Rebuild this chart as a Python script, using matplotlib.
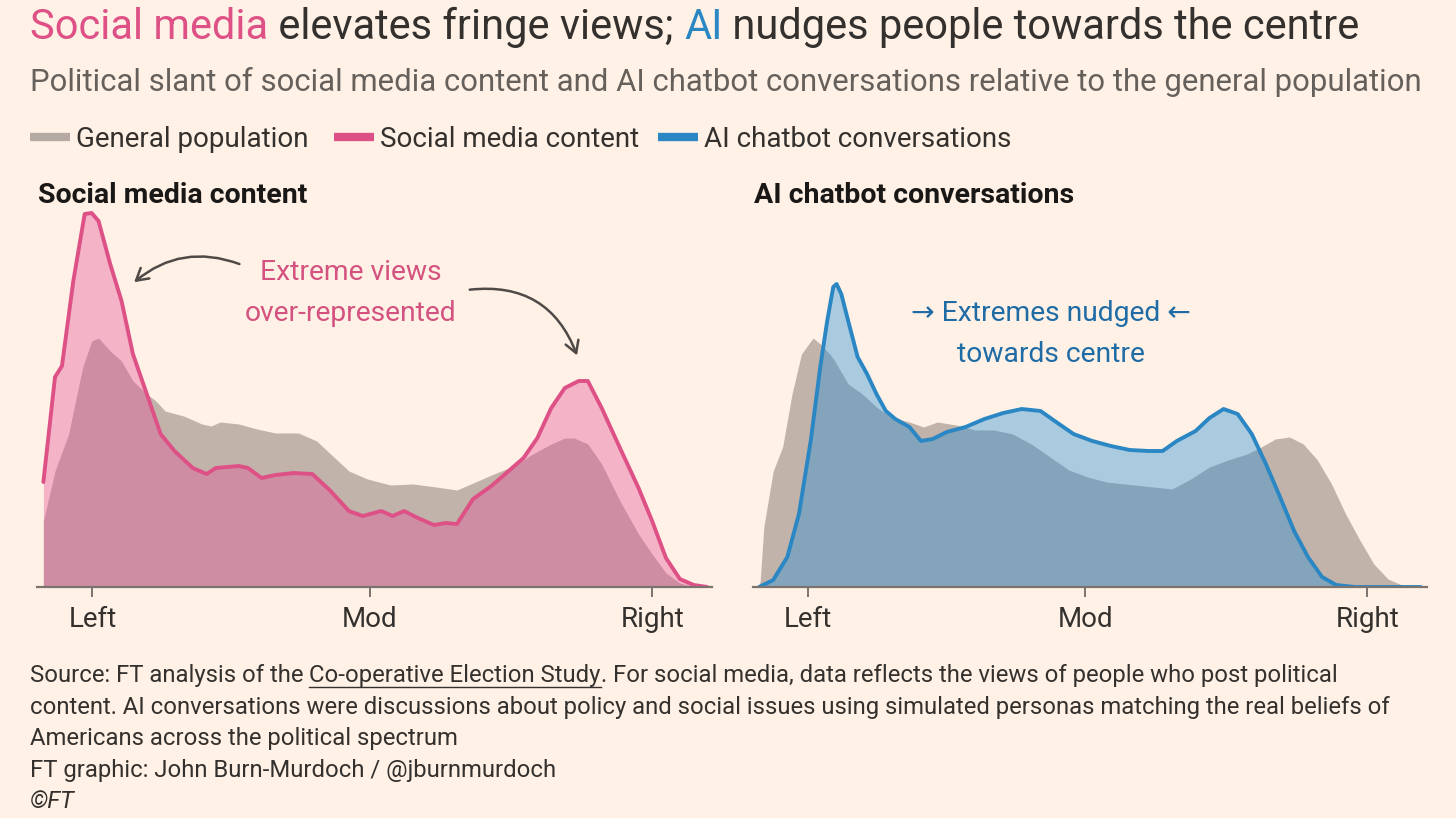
import matplotlib
matplotlib.use("Agg")
import matplotlib.pyplot as plt
from matplotlib.patches import FancyArrowPatch
from matplotlib.lines import Line2D

plt.rcParams['font.family'] = ['Roboto', 'DejaVu Sans']

# slant scale: Left = -1, Mod = 0, Right = ~1
# --- social media panel ---
sm_pop_x = [-1.177, -1.135, -1.086, -1.036, -1.003, -0.978, -0.936, -0.895, -0.854, -0.804,
            -0.771, -0.738, -0.671, -0.605, -0.572, -0.539, -0.472, -0.406, -0.340, -0.257,
            -0.191, -0.141, -0.075, -0.008, 0.075, 0.157, 0.240, 0.315, 0.390, 0.456,
            0.522, 0.588, 0.655, 0.704, 0.738, 0.787, 0.837, 0.903, 0.970, 1.019,
            1.069, 1.119, 1.169]
sm_pop_y = [66, 116, 153, 219, 246, 249, 236, 226, 206, 193,
            186, 176, 171, 163, 161, 165, 163, 158, 154, 154,
            146, 133, 116, 108, 102, 103, 100, 97, 106, 114,
            121, 133, 143, 149, 149, 143, 123, 86, 53, 33,
            14, 4, 0]

social_x = [-1.177, -1.135, -1.110, -1.069, -1.028, -1.003, -0.978, -0.936, -0.895, -0.854,
            -0.804, -0.754, -0.704, -0.638, -0.588, -0.555, -0.472, -0.439, -0.390, -0.340,
            -0.274, -0.207, -0.141, -0.075, -0.025, 0.042, 0.083, 0.124, 0.174, 0.232,
            0.274, 0.315, 0.373, 0.439, 0.489, 0.555, 0.605, 0.655, 0.704, 0.754,
            0.787, 0.837, 0.903, 0.970, 1.019, 1.069, 1.119, 1.169, 1.218]
social_y = [105, 210, 221, 306, 373, 374, 366, 323, 286, 233,
            193, 153, 136, 119, 113, 119, 121, 119, 109, 112,
            114, 113, 96, 76, 71, 76, 71, 76, 69, 62,
            64, 63, 88, 101, 113, 129, 149, 179, 199, 206,
            206, 179, 139, 99, 66, 29, 8, 2, 0]

# --- AI chatbot panel ---
ai_pop_x = [-1.180, -1.174, -1.161, -1.127, -1.093, -1.059, -1.025, -0.983, -0.957, -0.923,
            -0.907, -0.856, -0.805, -0.754, -0.703, -0.635, -0.584, -0.534, -0.466, -0.398,
            -0.330, -0.262, -0.195, -0.127, -0.059, 0.009, 0.077, 0.144, 0.212, 0.314,
            0.382, 0.449, 0.517, 0.585, 0.636, 0.687, 0.738, 0.788, 0.839, 0.890,
            0.941, 0.992, 1.043, 1.094, 1.144, 1.195, 1.212]
ai_pop_y = [0, 6, 60, 116, 140, 193, 233, 249, 243, 233,
            227, 203, 193, 180, 170, 165, 160, 165, 162, 157,
            157, 153, 143, 130, 117, 110, 105, 103, 101, 98,
            108, 120, 127, 133, 140, 148, 150, 143, 127, 103,
            73, 47, 23, 8, 2, 0, 0]

ai_x = [-1.178, -1.127, -1.076, -1.034, -0.991, -0.957, -0.932, -0.910, -0.898, -0.881,
        -0.856, -0.822, -0.788, -0.754, -0.720, -0.686, -0.635, -0.593, -0.551, -0.500,
        -0.432, -0.364, -0.296, -0.229, -0.161, -0.110, -0.042, 0.026, 0.093, 0.161,
        0.229, 0.280, 0.331, 0.399, 0.449, 0.500, 0.551, 0.602, 0.653, 0.704,
        0.755, 0.805, 0.856, 0.907, 0.975, 1.212]
ai_y = [0, 7, 30, 73, 147, 220, 266, 300, 303, 293,
        266, 230, 213, 193, 176, 168, 160, 146, 148, 155,
        160, 168, 174, 178, 176, 166, 153, 146, 141, 137,
        136, 136, 146, 156, 169, 178, 173, 153, 123, 90,
        56, 30, 10, 2, 0, 0]

tick_pos = [-1, 0, 1.02]
tick_labels = ['Left', 'Mod', 'Right']

BG = '#FFF1E5'
GREY = '#C1B3AA'
PINK_LINE = '#DE5186'
PINK_FILL = '#E55399'
BLUE_LINE = '#2A87C4'
BLUE_FILL = '#268DD8'
INK = '#33302E'
W, H = 1456, 818

fig = plt.figure(figsize=(W / 100, H / 100), dpi=100, facecolor=BG)


def fx(x):
    return x / W


def fy(y):
    return 1 - y / H


def runs(x, y, parts, **kw):
    # draw text pieces one after another on one line
    r = fig.canvas.get_renderer()
    bar = fig.text(0, 0, '||', **kw)
    wbar = bar.get_window_extent(r).width
    bar.remove()
    cur = x
    out = []
    for s, c in parts:
        fig.text(fx(cur), fy(y), s, color=c, va='baseline', **kw)
        m = fig.text(0, 0, '|' + s + '|', **kw)
        w = m.get_window_extent(r).width - wbar
        m.remove()
        out.append((cur, cur + w))
        cur += w
    return out


# title, subtitle
runs(30, 39, [('Social media', PINK_LINE), (' elevates fringe views; ', INK),
              ('AI', '#2A87C4'), (' nudges people towards the centre', INK)], fontsize=30)
fig.text(fx(30), fy(91), 'Political slant of social media content and AI chatbot conversations '
         'relative to the general population', fontsize=22.4, color='#66605C', va='baseline')

# legend
leg = [('General population', '#B5A9A3', 30), ('Social media content', PINK_LINE, 334),
       ('AI chatbot conversations', BLUE_LINE, 658)]
for name, col, x0 in leg:
    fig.add_artist(Line2D([fx(x0), fx(x0 + 40)], [fy(137), fy(137)], color=col, lw=6,
                          solid_capstyle='butt'))
    fig.text(fx(x0 + 46), fy(147), name, fontsize=20, color=INK, va='baseline')


def panel(left, right, pop_x, pop_y, x, y, line_col, fill_col, title):
    ax = fig.add_axes([fx(left), fy(587), fx(right - left), (587 - 200) / H])
    ax.set_facecolor('none')
    ax.fill_between(pop_x, pop_y, color=GREY, lw=0, zorder=1)
    ax.fill_between(x, y, color=fill_col, alpha=0.39, lw=0, zorder=2)
    ax.plot(x, y, color=line_col, lw=2.8, zorder=3, solid_capstyle='round',
            solid_joinstyle='round')
    ax.set_xlim(-1.2, 1.235)
    ax.set_ylim(0, 387)
    for s in ['top', 'left', 'right']:
        ax.spines[s].set_visible(False)
    ax.spines['bottom'].set_color('#7A7370')
    ax.spines['bottom'].set_linewidth(1.6)
    ax.spines['bottom'].set_zorder(4)
    ax.set_yticks([])
    ax.set_xticks(tick_pos)
    ax.set_xticklabels(tick_labels, fontsize=20, color=INK)
    ax.tick_params(axis='x', length=7, width=1.4, color='#7A7370', pad=7)
    fig.text(fx(left + 1), fy(203), title, fontsize=20.5, fontweight='bold', color='#1A1817',
             va='baseline')
    return ax


ax1 = panel(37, 712, sm_pop_x, sm_pop_y, social_x, social_y, PINK_LINE, PINK_FILL,
            'Social media content')
ax2 = panel(753, 1427, ai_pop_x, ai_pop_y, ai_x, ai_y, BLUE_LINE, BLUE_FILL,
            'AI chatbot conversations')

# annotations
fig.text(fx(351), fy(293), 'Extreme views\nover-represented', fontsize=20.3, color='#D4527F',
         ha='center', va='center', linespacing=1.7)
fig.text(fx(1051), fy(334), '\u2192 Extremes nudged \u2190\ntowards centre', fontsize=20.3,
         color='#1E6BA5', ha='center', va='center', linespacing=1.7)

arrow_kw = dict(transform=fig.transFigure, arrowstyle='->,head_length=0.6,head_width=0.35',
                color='#4F4A47', lw=1.8, mutation_scale=14)
fig.add_artist(FancyArrowPatch((fx(242), fy(265)), (fx(132), fy(284)),
                               connectionstyle='arc3,rad=0.3', **arrow_kw))
fig.add_artist(FancyArrowPatch((fx(467), fy(290)), (fx(578), fy(358)),
                               connectionstyle='arc3,rad=-0.4', **arrow_kw))

# footer
fk = dict(fontsize=17.2)
seg = runs(30, 682, [('Source: FT analysis of the ', INK), ('Co-operative Election Study', INK),
                     ('. For social media, data reflects the views of people who post political', INK)],
           **fk)
u0, u1 = seg[1]
fig.add_artist(Line2D([fx(u0), fx(u1)], [fy(687), fy(687)], color=INK, lw=1))
fig.text(fx(30), fy(714), 'content. AI conversations were discussions about policy and social issues '
         'using simulated personas matching the real beliefs of', va='baseline', color=INK, **fk)
fig.text(fx(30), fy(745), 'Americans across the political spectrum', va='baseline', color=INK, **fk)
fig.text(fx(30), fy(777), 'FT graphic: John Burn-Murdoch / @jburnmurdoch', va='baseline',
         color=INK, **fk)
fig.text(fx(30), fy(808), '\u00a9FT', va='baseline', fontstyle='italic', color=INK, **fk)

fig.savefig('out.png', dpi=100, facecolor=BG)
